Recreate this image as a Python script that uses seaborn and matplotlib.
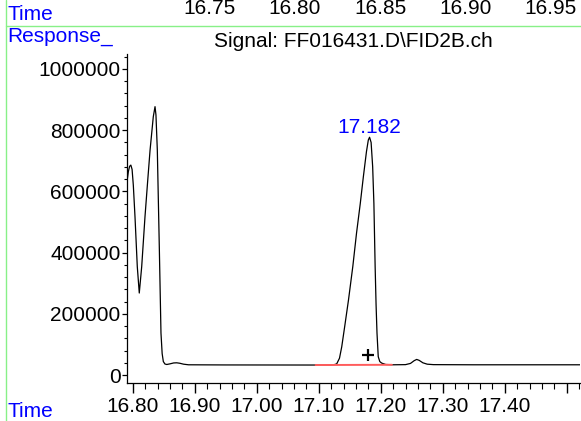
import pandas as pd
import seaborn as sns
import matplotlib.pyplot as plt
from matplotlib.ticker import MultipleLocator
from matplotlib.lines import Line2D

# Cromatograma (tempo em min, resposta)
tempo = [16.7908, 16.793, 16.795, 16.797, 16.799, 16.801, 16.8037, 16.8074, 16.8106,
         16.8145, 16.8198, 16.824, 16.828, 16.8332, 16.836, 16.8375, 16.8397, 16.843,
         16.8456, 16.8475, 16.8494, 16.852, 16.855, 16.860, 16.866, 16.871, 16.876,
         16.882, 16.890, 16.95, 17.05, 17.10, 17.120, 17.126, 17.129, 17.1335, 17.1371,
         17.142, 17.148, 17.155, 17.161, 17.167, 17.172, 17.177, 17.180, 17.182, 17.1845,
         17.187, 17.189, 17.191, 17.1925, 17.194, 17.196, 17.1985, 17.2016, 17.208,
         17.220, 17.240, 17.248, 17.254, 17.258, 17.262, 17.268, 17.275, 17.285, 17.35,
         17.45, 17.5214]
resposta = [632000, 665000, 682000, 686000, 672000, 620000, 517000, 354000, 268000,
            354000, 517000, 630000, 735000, 844000, 877000, 850000, 735000, 408000,
            137000, 70000, 44000, 36000, 34500, 36500, 39500, 40000, 38500,
            35500, 33500, 33000, 32800, 32700, 33000, 34500, 36500, 55000, 92000,
            160000, 245000, 355000, 464000, 560000, 648000, 730000, 768000, 777000, 760000,
            681000, 560000, 354000, 230000, 137000, 60000, 44000, 39000, 34500,
            33500, 34000, 38000, 47000, 51000, 48000, 40000, 35500, 34000, 33500,
            33500, 33500]

pico_tempo = 17.182
pico_resposta = 777000
marca_tempo = 17.180
marca_resposta = 65000
linha_base_tempo = [17.095, 17.218]
linha_base_resposta = [32700, 33500]

x_ticks = [16.8, 16.9, 17.0, 17.1, 17.2, 17.3, 17.4, 17.5]
x_labels = ['16.80', '16.90', '17.00', '17.10', '17.20', '17.30', '17.40', '']
y_ticks = [0, 200000, 400000, 600000, 800000, 1000000]
y_labels = ['0', '200000', '400000', '600000', '800000', '1000000']
topo_ticks = [16.75, 16.80, 16.85, 16.90, 16.95]
topo_labels = ['16.75', '16.80', '16.85', '16.90', '16.95']

sns.set_style('white')
plt.rcParams['font.family'] = ['Liberation Sans', 'DejaVu Sans']

W, H = 581, 421
fig = plt.figure(figsize=(W / 100, H / 100), dpi=100)
ax = fig.add_axes([127 / W, 38 / H, 453 / W, 329 / H])

df = pd.DataFrame({'Tempo': tempo, 'Resposta': resposta})
sns.lineplot(data=df, x='Tempo', y='Resposta', ax=ax, color='black', linewidth=0.9)

# linha base da integracao e marcador
ax.plot(linha_base_tempo, linha_base_resposta, color='#ff5c5c', linewidth=1.4, zorder=3)
ax.plot(marca_tempo, marca_resposta, marker='+', markersize=8, markeredgewidth=1.6, color='black')
ax.annotate(f'{pico_tempo:.3f}', xy=(pico_tempo, pico_resposta), xytext=(0, 3),
            textcoords='offset points', ha='center', va='baseline', color='blue', fontsize=15)

ax.set_xlim(16.7908, 17.5214)
ax.set_ylim(-26000, 1049000)
ax.set_xticks(x_ticks)
ax.set_xticklabels(x_labels)
ax.set_yticks(y_ticks)
ax.set_yticklabels(y_labels)
ax.xaxis.set_minor_locator(MultipleLocator(0.02))
ax.yaxis.set_minor_locator(MultipleLocator(40000))
ax.tick_params(axis='both', which='both', direction='out', colors='black', labelsize=15)
ax.tick_params(axis='x', which='major', length=7.2, width=1.0, pad=3, bottom=True)
ax.tick_params(axis='x', which='minor', length=4.3, width=0.8, bottom=True)
ax.tick_params(axis='y', which='major', length=3.6, width=0.9, pad=1, left=True)
ax.tick_params(axis='y', which='minor', length=2.2, width=0.8, left=True)
ax.set_xlabel('')
ax.set_ylabel('')
for lado in ['top', 'right']:
    ax.spines[lado].set_visible(False)
for lado in ['left', 'bottom']:
    ax.spines[lado].set_color('black')
    ax.spines[lado].set_linewidth(0.9)
ax.set_title('Signal: FF016431.D\\FID2B.ch', fontsize=15, pad=5, color='black')

# faixa de tempo no topo
hdr = fig.add_axes([6 / W, (H - 25.7) / H, 575 / W, 25.7 / H])
hdr.set_facecolor('none')
hdr.set_xlim(16.6306, 16.9676)
hdr.set_xticks(topo_ticks)
hdr.set_xticklabels(topo_labels)
hdr.set_yticks([])
hdr.tick_params(axis='x', top=False, bottom=False, labeltop=True, labelbottom=False,
                pad=-16.8, labelsize=15, colors='black')
for lado in hdr.spines:
    hdr.spines[lado].set_visible(False)

verde = '#88f088'
fig.add_artist(Line2D([6 / W, 6 / W], [0, 1], transform=fig.transFigure, color=verde, linewidth=1))
fig.add_artist(Line2D([6 / W, 1], [(H - 25.7) / H] * 2, transform=fig.transFigure, color=verde, linewidth=1))

fig.text(7 / W, 1 - 20 / H, 'Time', color='blue', fontsize=15, va='baseline')
fig.text(7 / W, 1 - 42 / H, 'Response_', color='blue', fontsize=15, va='baseline')
fig.text(7 / W, 1 - 416.7 / H, 'Time', color='blue', fontsize=15, va='baseline')

fig.savefig('out.png', dpi=100)
